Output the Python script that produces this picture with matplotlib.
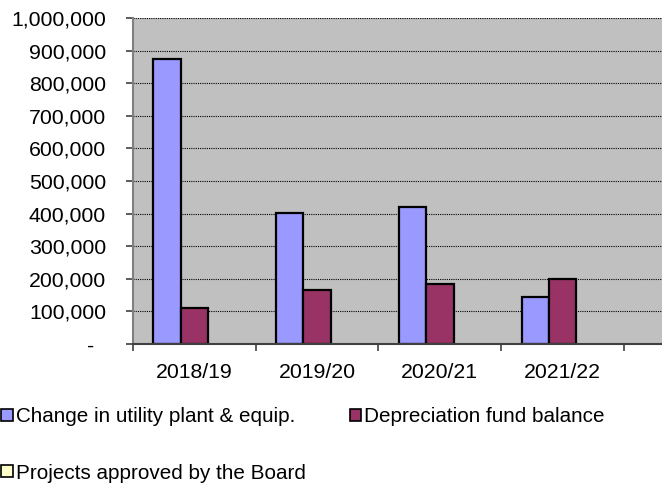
import matplotlib
matplotlib.use('Agg')
import matplotlib.pyplot as plt
import numpy as np
from matplotlib.ticker import FuncFormatter
from matplotlib.patches import Patch

plt.rcParams['font.family'] = ['Liberation Sans', 'DejaVu Sans']

years = ['2018/19', '2019/20', '2020/21', '2021/22']
change_plant = [874000, 402000, 420000, 145000]
depreciation = [110000, 166000, 184000, 200000]
projects = [0, 0, 0, 0]

fig = plt.figure(figsize=(6.62, 4.88), dpi=100)
ax = fig.add_axes([133/662, 1 - 344/488, 1 - 133/662, (344 - 18)/488])
ax.set_facecolor('#C0C0C0')

x = np.arange(len(years))
w = 0.223
ax.bar(x - w, change_plant, w, color='#9999FF', edgecolor='black', linewidth=1.6, zorder=3)
ax.bar(x, depreciation, w, color='#993366', edgecolor='black', linewidth=1.6, zorder=3)
ax.bar(x + w, projects, w, color='#FFFFCC', edgecolor='black', linewidth=0, zorder=3)

ax.set_xlim(-0.5, 3.81)
ax.set_ylim(0, 1000000)
ax.set_yticks(np.arange(0, 1000001, 100000))
# accounting style: zero shown as a dash, set in from the right
ax.yaxis.set_major_formatter(FuncFormatter(lambda v, p: '-  ' if v == 0 else '{:,.0f}'.format(v)))
ax.grid(axis='y', color='black', linestyle=(0, (1, 1)), linewidth=0.8, zorder=1)

ax.set_xticks(x)
ax.set_xticklabels(years)
ax.set_xticks(np.arange(-0.5, 4, 1), minor=True)
ax.tick_params(axis='x', which='major', length=0, labelsize=15.3, pad=14)
ax.tick_params(axis='x', which='minor', length=5, color='#404040', width=1.2)
ax.tick_params(axis='y', length=5, color='#404040', width=1.2, labelsize=15.3, pad=14.5)

for s in ['top', 'right']:
    ax.spines[s].set_visible(False)
ax.spines['left'].set_color('#808080')
ax.spines['left'].set_linewidth(1.5)
ax.spines['bottom'].set_color('#404040')
ax.spines['bottom'].set_linewidth(1.5)
ax.spines['bottom'].set_zorder(4)

h1 = Patch(facecolor='#9999FF', edgecolor='black', linewidth=1.2)
h2 = Patch(facecolor='#993366', edgecolor='black', linewidth=1.2)
h3 = Patch(facecolor='#FFFFCC', edgecolor='black', linewidth=1.2)
fig.legend([h1, h3, h2],
           ['Change in utility plant & equip.', 'Projects approved by the Board', 'Depreciation fund balance'],
           loc='upper left', bbox_to_anchor=(-0.0106, 1 - 399/488), ncol=2, frameon=False,
           fontsize=14.9, handlelength=0.55, handleheight=0.5, handletextpad=0.15,
           labelspacing=1.8, columnspacing=2.13, borderaxespad=0)

fig.savefig('out.png', dpi=100)
